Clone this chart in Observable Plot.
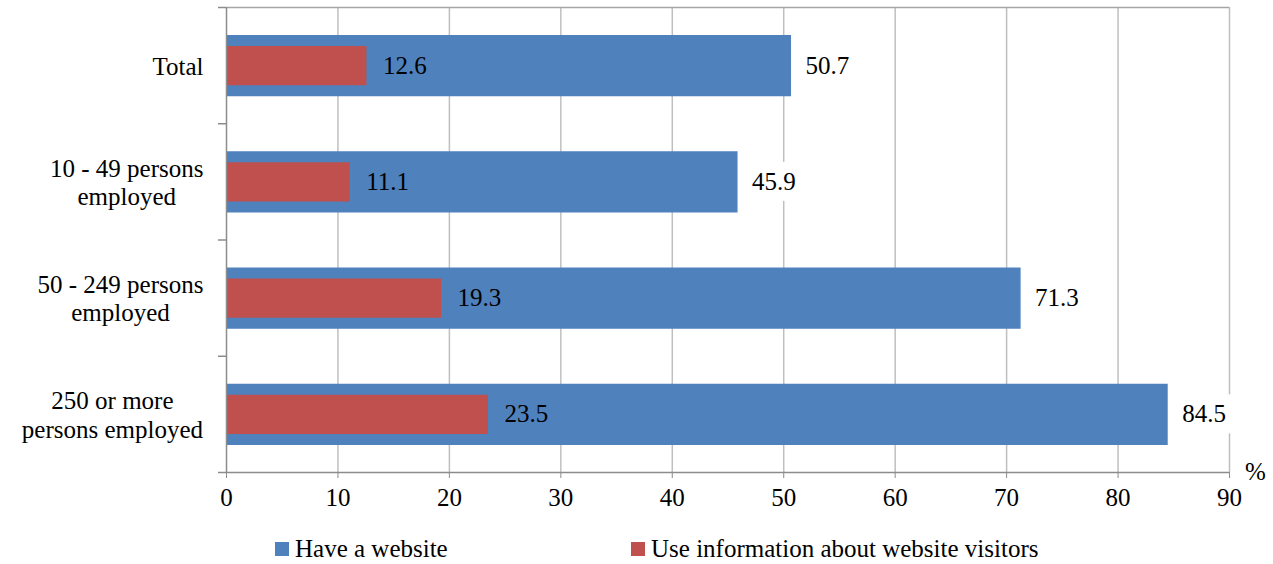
<!DOCTYPE html>
<html>
<head>
<meta charset="utf-8">
<script src="https://cdn.jsdelivr.net/npm/d3@7"></script>
<script src="https://cdn.jsdelivr.net/npm/@observablehq/plot@0.6"></script>
<style>
  body { margin: 0; background: #fff; font-family: "Liberation Serif", Tinos, "Noto Serif", "Nimbus Roman", "Nimbus Roman No9 L", FreeSerif, "DejaVu Serif", "Times New Roman", Times, serif; }
  #wrap { position: relative; width: 1273px; height: 564px; }
  .legend { position: absolute; top: 531px; left: 0; width: 1273px; height: 33px; font-size: 25px; color: #000; }
  .item { position: absolute; top: 0; display: flex; align-items: center; height: 36px; white-space: nowrap; }
  .sw { display: inline-block; width: 14px; height: 14px; margin-right: 6px; }
  svg text { font-family: "Liberation Serif", Tinos, "Noto Serif", "Nimbus Roman", "Nimbus Roman No9 L", FreeSerif, "DejaVu Serif", "Times New Roman", Times, serif !important; }
</style>
</head>
<body>
<div id="wrap"></div>
<script>
const categories = ["Total", "10 - 49 persons\nemployed", "50 - 249 persons\nemployed", "250 or more\npersons employed"];
const haveWebsite = [50.7, 45.9, 71.3, 84.5];
const useVisitorInfo = [12.6, 11.1, 19.3, 23.5];
const xTicks = [0, 10, 20, 30, 40, 50, 60, 70, 80, 90];
const seriesNames = ["Have a website", "Use information about website visitors"];
const unitLabel = "%";

const colors = { web: "#4F81BD", use: "#C0504D" };
const serif = '"Liberation Serif", Tinos, "Noto Serif", "Nimbus Roman", FreeSerif, "DejaVu Serif", "Times New Roman", Times, serif';

const rows = categories.map((c, i) => ({ cat: c, i, web: haveWebsite[i], use: useVisitorInfo[i] }));
const boundaries = d3.range(categories.length + 1);

const chart = Plot.plot({
  width: 1273,
  height: 525,
  marginLeft: 226,
  marginRight: 44,
  marginTop: 7,
  marginBottom: 53,
  style: { fontFamily: serif, fontSize: "25px", color: "#000", background: "#fff" },
  x: { type: "linear", domain: [0, 90] },
  y: { type: "linear", domain: [0, categories.length], reverse: true },
  marks: [
    Plot.ruleX(xTicks.slice(1), { x: d => d, stroke: "#bfbfbf", strokeWidth: 1.5 }),
    Plot.ruleY([0], { y: d => d, stroke: "#a6a6a6", strokeWidth: 1.5 }),
    Plot.rectX(rows, { x1: 0, x2: "web", y1: d => d.i, y2: d => d.i + 1, fill: colors.web, insetTop: 28, insetBottom: 27 }),
    Plot.rectX(rows, { x1: 0, x2: "use", y1: d => d.i, y2: d => d.i + 1, fill: colors.use, insetTop: 39, insetBottom: 38 }),
    Plot.ruleX([0], { x: d => d, stroke: "#8c8c8c", strokeWidth: 1.5 }),
    Plot.ruleY([categories.length], { y: d => d, stroke: "#8c8c8c", strokeWidth: 1.5 }),
    Plot.axisX(xTicks, { tickSize: 6, tickPadding: 10, stroke: "#8c8c8c", fontSize: 25, tickFormat: d => String(d), label: null }),
    Plot.axisY(boundaries, { tickSize: 8, tickFormat: () => "", stroke: "#8c8c8c", strokeWidth: 1.5, label: null }),
    Plot.text(rows, { x: 0, y: d => d.i + 0.5, text: "cat", textAnchor: "middle", lineAnchor: "middle", lineHeight: 1.13, fontSize: 25, fill: "#000" }),
    Plot.text(rows, { x: "web", y: d => d.i + 0.5, text: d => d.web.toFixed(1), textAnchor: "start", dx: 14, fontSize: 25, fill: "#000" }),
    Plot.text(rows, { x: "use", y: d => d.i + 0.5, text: d => d.use.toFixed(1), textAnchor: "start", dx: 16, fontSize: 25, fill: "#000" }),
    Plot.text([unitLabel], { x: xTicks[xTicks.length - 1], y: categories.length, text: d => d, dx: 26, dy: -1, textAnchor: "middle", fontSize: 25, fill: "#000" })
  ]
});

const wrap = document.getElementById("wrap");
wrap.appendChild(chart);

try {
  const textGroups = Array.from(chart.querySelectorAll('g[aria-label="text"]'));
  const catGroup = textGroups[0];
  const webGroup = textGroups[1];
  const labelRight = 203;
  if (catGroup) {
    catGroup.querySelectorAll("text").forEach(t => {
      const bb = t.getBBox();
      let tx = 0;
      const tr = t.getAttribute("transform");
      if (tr) { const m = /translate\(\s*([-\d.e]+)/.exec(tr); if (m) tx = +m[1]; }
      const right = tx + bb.x + bb.width;
      const shift = labelRight - right;
      t.setAttribute("transform", `translate(${shift},0) ` + (tr || ""));
    });
  }
  if (webGroup) {
    webGroup.querySelectorAll("text").forEach(t => {
      const bb = t.getBBox();
      const rect = document.createElementNS("http://www.w3.org/2000/svg", "rect");
      rect.setAttribute("x", bb.x - 5);
      rect.setAttribute("y", bb.y - 6);
      rect.setAttribute("width", bb.width + 10);
      rect.setAttribute("height", bb.height + 12);
      rect.setAttribute("fill", "#fff");
      const tr = t.getAttribute("transform");
      if (tr) rect.setAttribute("transform", tr);
      webGroup.insertBefore(rect, t);
    });
  }
} catch (e) { console.error(e); }

const legend = document.createElement("div");
legend.className = "legend";
const lefts = [275, 631];
seriesNames.forEach((name, k) => {
  const item = document.createElement("div");
  item.className = "item";
  item.style.left = lefts[k] + "px";
  const sw = document.createElement("span");
  sw.className = "sw";
  sw.style.background = k === 0 ? colors.web : colors.use;
  item.appendChild(sw);
  item.appendChild(document.createTextNode(name));
  legend.appendChild(item);
});
wrap.appendChild(legend);
</script>
</body>
</html>
